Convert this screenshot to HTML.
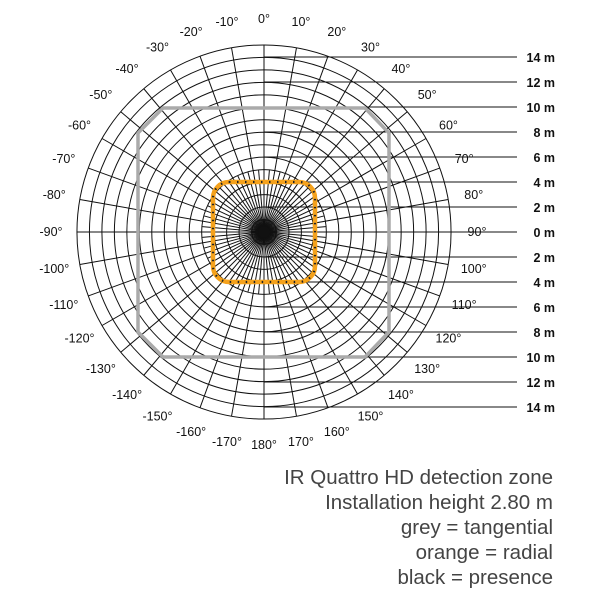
<!DOCTYPE html>
<html><head><meta charset="utf-8"><style>
body{margin:0;background:#fff;width:600px;height:600px;overflow:hidden}
svg text{font-family:"Liberation Sans",sans-serif}
</style></head><body>
<svg width="600" height="600" viewBox="0 0 600 600" xmlns="http://www.w3.org/2000/svg">
<g id="g" stroke="#111" stroke-width="1" fill="none"></g>
<g id="t" font-size="12.5" fill="#111" text-anchor="middle"></g>
<path d="M163 108 L365 108 L389 133 L389 332 L365 357 L163 357 L138 332 L138 133 Z" stroke="#aaa" stroke-width="3.5" stroke-linejoin="round" fill="none"/>
<rect x="213" y="182" width="102" height="100" rx="16" stroke="#f5a21c" stroke-width="4.5" fill="none"/>
<rect x="213" y="182" width="102" height="100" rx="16" stroke="#222" stroke-width="2.2" stroke-dasharray="1.5 6.5" fill="none"/>
<circle cx="264" cy="232" r="6" fill="#111"/>
<g font-size="20.5" fill="#444" text-anchor="end">
<text x="553" y="484">IR Quattro HD detection zone</text>
<text x="553" y="509">Installation height 2.80 m</text>
<text x="553" y="534">grey = tangential</text>
<text x="553" y="559">orange = radial</text>
<text x="553" y="584">black = presence</text>
</g>
</svg>
<script>
var ns="http://www.w3.org/2000/svg",g=document.getElementById('g'),t=document.getElementById('t');
var cx=264,cy=232,R=187;
function el(p,n,a){var e=document.createElementNS(ns,n);for(var k in a)e.setAttribute(k,a[k]);p.appendChild(e);return e;}
for(var i=1;i<=15;i++)el(g,'circle',{cx:cx,cy:cy,r:i*12.47});
for(var a=0;a<360;a+=5){var r=(a%10==0)?R:62,rad=a*Math.PI/180;
el(g,'line',{x1:cx,y1:cy,x2:cx+r*Math.sin(rad),y2:cy-r*Math.cos(rad)});}
for(var k=-7;k<=7;k++){var y=cy+k*25;el(g,'line',{x1:cx,y1:y,x2:517,y2:y});
var tx=el(t,'text',{x:555,y:y+5,'text-anchor':'end','font-weight':'bold'});tx.textContent=Math.abs(2*k)+' m';}
for(var a=-170;a<=180;a+=10){var rad=a*Math.PI/180,r=213;
var x=cx+r*Math.sin(rad),y=cy-r*Math.cos(rad)+4;
var tx=el(t,'text',{x:x,y:y});tx.textContent=a+'°';}
</script>
</body></html>
